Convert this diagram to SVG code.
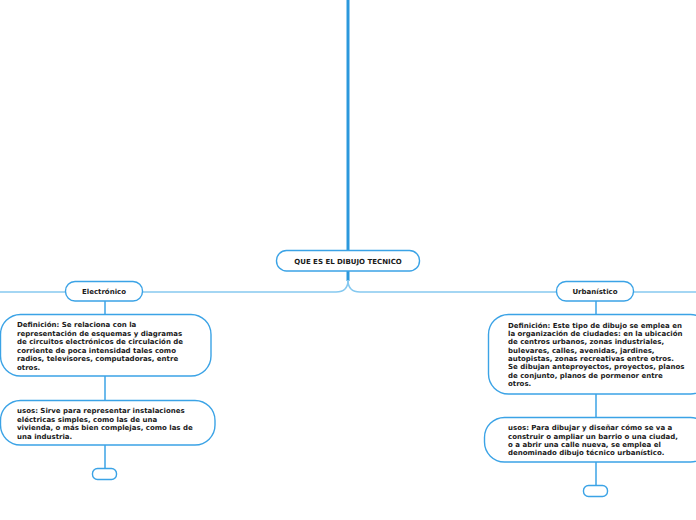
<svg xmlns="http://www.w3.org/2000/svg" width="696" height="520" viewBox="0 0 696 520">
<style>
.node{fill:#ffffff;stroke:#3ba3e6;stroke-width:1.4}
.t{font-family:"DejaVu Sans",Verdana,sans-serif;font-weight:bold;font-size:7px;fill:#1a1a1a}
.c{text-anchor:middle}
.trunk{fill:none;stroke:#2b98dc;stroke-width:3}
.h{fill:none;stroke:#86c9f0;stroke-width:1.5}
.v{fill:none;stroke:#3ba3e6;stroke-width:1.5}
</style>
<rect width="696" height="520" fill="#ffffff"/>
<g id="connectors">
<path class="trunk" d="M348,0 L348,250"/>
<path class="trunk" d="M348,271 L348,281"/>
<path class="h" d="M348,280 Q348,292 336,292 L0,292"/>
<path class="h" d="M348,280 Q348,292 360,292 L696,292"/>
<path class="v" d="M105,301 L105,315"/>
<path class="v" d="M105,376 L105,400"/>
<path class="v" d="M105,445 L105,468"/>
<path class="v" d="M596,301 L596,314"/>
<path class="v" d="M596,394 L596,417"/>
<path class="v" d="M596,462 L596,485"/>
</g>
<g id="root">
<rect class="node" x="276.5" y="250.5" width="143" height="20.5" rx="10"/>
<text class="t c" x="348" y="263.5">QUE ES EL DIBUJO TECNICO</text>
</g>
<g id="electronico">
<rect class="node" x="65.5" y="281.5" width="77" height="19.5" rx="9.5"/>
<text class="t c" x="104" y="294">Electrónico</text>
</g>
<g id="def-electronico">
<rect class="node" x="0.5" y="314.5" width="210.5" height="61.5" rx="20"/>
<text class="t" x="17" y="327">Definición: Se relaciona con la</text>
<text class="t" x="17" y="335.5">representación de esquemas y diagramas</text>
<text class="t" x="17" y="344">de circuitos electrónicos de circulación de</text>
<text class="t" x="17" y="352.5">corriente de poca intensidad tales como</text>
<text class="t" x="17" y="361">radios, televisores, computadoras, entre</text>
<text class="t" x="17" y="369.5">otros.</text>
</g>
<g id="usos-electronico">
<rect class="node" x="0.5" y="400.5" width="214.5" height="44.5" rx="20"/>
<text class="t" x="17" y="413">usos: Sirve para representar instalaciones</text>
<text class="t" x="17" y="421.5">eléctricas simples, como las de una</text>
<text class="t" x="17" y="430">vivienda, o más bien complejas, como las de</text>
<text class="t" x="17" y="438.5">una industria.</text>
</g>
<g id="leaf-electronico">
<rect class="node" x="92.5" y="468.5" width="24" height="11" rx="5"/>
</g>
<g id="urbanistico">
<rect class="node" x="556.5" y="281.5" width="77" height="19.5" rx="9.5"/>
<text class="t c" x="595" y="294">Urbanístico</text>
</g>
<g id="def-urbanistico">
<rect class="node" x="488.5" y="314.5" width="222" height="79.5" rx="20"/>
<text class="t" x="508" y="327.5">Definición: Este tipo de dibujo se emplea en</text>
<text class="t" x="508" y="336">la organización de ciudades: en la ubicación</text>
<text class="t" x="508" y="344.3">de centros urbanos, zonas industriales,</text>
<text class="t" x="508" y="352.6">bulevares, calles, avenidas, jardines,</text>
<text class="t" x="508" y="361">autopistas, zonas recreativas entre otros.</text>
<text class="t" x="508" y="369.3">Se dibujan anteproyectos, proyectos, planos</text>
<text class="t" x="508" y="377.6">de conjunto, planos de pormenor entre</text>
<text class="t" x="508" y="386">otros.</text>
</g>
<g id="usos-urbanistico">
<rect class="node" x="484.5" y="417.5" width="226" height="44.5" rx="20"/>
<text class="t" x="508" y="430.3">usos: Para dibujar y diseñar cómo se va a</text>
<text class="t" x="508" y="438.6">construir o ampliar un barrio o una ciudad,</text>
<text class="t" x="508" y="447">o a abrir una calle nueva, se emplea el</text>
<text class="t" x="508" y="455.3">denominado dibujo técnico urbanístico.</text>
</g>
<g id="leaf-urbanistico">
<rect class="node" x="583.5" y="485.5" width="24" height="11" rx="5"/>
</g>
</svg>
